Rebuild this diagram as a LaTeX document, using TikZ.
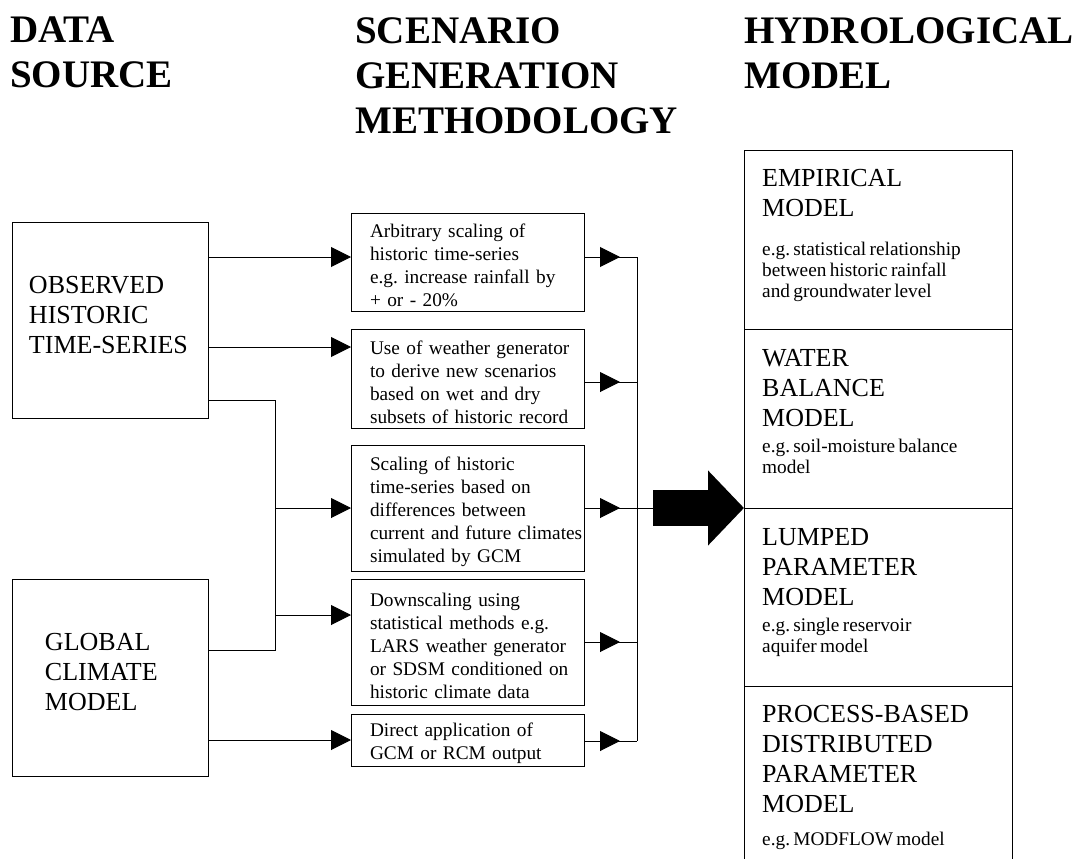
\documentclass[tikz,border=0pt]{standalone}
\usepackage{fontspec}
\setmainfont{Liberation Serif}
\usetikzlibrary{shapes,arrows.meta,positioning}
\frenchspacing

\newcommand{\hydname}{\fontsize{26}{30}\selectfont}
\newcommand{\hydnote}{\fontsize{19.3}{21}\selectfont}

\begin{document}
\begin{tikzpicture}[x=1pt, y=-1pt, auto]
    % Define block styles
    \tikzstyle{heading} = [anchor=north west, inner sep=0pt, align=left, font=\fontsize{39}{45}\selectfont\bfseries]
    \tikzstyle{source} = [rectangle, draw, line width=1pt, outer sep=0pt, anchor=north west, minimum width=196pt, minimum height=196pt, text width=196pt, inner sep=0pt, align=left, font=\hydname, execute at begin node={\leftskip=17pt\relax}, execute at end node={\rule[-11pt]{0pt}{11pt}}]
    \tikzstyle{method} = [rectangle, draw, line width=1pt, outer sep=0pt, anchor=north west, text width=233pt, inner sep=0pt, align=left, font=\fontsize{19.3}{23}\selectfont, execute at begin node={\leftskip=19pt\rightskip=-8pt plus 1fil\hyphenpenalty=10000\relax\rule{0pt}{21pt}}]
    \tikzstyle{cell} = [rectangle, draw, line width=1pt, outer sep=0pt, anchor=north west, minimum width=268pt, minimum height=179pt, inner sep=0pt]
    \tikzstyle{celltext} = [anchor=north west, inner sep=0pt, text width=245pt, align=left]
    \tikzstyle{line} = [draw, line width=1pt]
    \tikzstyle{arrowline} = [draw, line width=1pt, -{Triangle[length=20pt, width=20pt]}]

    \useasboundingbox (0,0) rectangle (1080,859);

    % Headings
    \node [heading] (datahead) at (10,17) {DATA\\SOURCE};
    \node [heading] (scenhead) at (355,17) {SCENARIO\\GENERATION\\METHODOLOGY};
    \node [heading] (hydhead) at (744,17) {HYDROLOGICAL\\MODEL};

    % Data sources
    \node [source] (obs) at (12,222) {OBSERVED\\HISTORIC\\TIME-SERIES};
    \node [source, minimum height=197pt, execute at begin node={\leftskip=33pt\relax}] (glob) at (12,579) {GLOBAL\\CLIMATE\\MODEL};

    % Scenario methods
    \node [method, minimum height=98pt] (b1) at (351,213) {Arbitrary scaling of\\historic time-series\\e.g. increase rainfall by\\+ or - 20\%};
    \node [method, minimum height=99pt, below=18pt of b1] (b2) {Use of weather generator\\to derive new scenarios\\based on wet and dry\\subsets of historic record};
    \node [method, minimum height=126pt, below=17pt of b2] (b3) {Scaling of historic\\time-series based on\\differences between\\current and future climates\\simulated by GCM};
    \node [method, minimum height=126pt, below=8pt of b3] (b4) {Downscaling using\\statistical methods e.g.\\LARS weather generator\\or SDSM conditioned on\\historic climate data};
    \node [method, minimum height=52pt, below=9pt of b4] (b5) {Direct application of\\GCM or RCM output};

    % Hydrological models
    \node [cell] (emp) at (744,150) {};
    \node [cell, below=0pt of emp] (wat) {};
    \node [cell, minimum height=178pt, below=0pt of wat] (lum) {};
    \node [cell, minimum height=200pt, below=0pt of lum] (pro) {};

    \node [celltext, below right=19pt and 18pt of emp.north west] (emptext) {{\hydname EMPIRICAL\\MODEL\par}\vspace{18pt}{\hydnote e.g. statistical relationship\\between historic rainfall\\and groundwater level\par}};
    \node [celltext, below right=20pt and 18pt of wat.north west] (wattext) {{\hydname WATER\\BALANCE\\MODEL\par}\vspace{5pt}{\hydnote e.g. soil-moisture balance\\model\par}};
    \node [celltext, below right=20pt and 18pt of lum.north west] (lumtext) {{\hydname LUMPED\\PARAMETER\\MODEL\par}\vspace{5pt}{\hydnote e.g. single reservoir\\aquifer model\par}};
    \node [celltext, below right=19pt and 18pt of pro.north west] (protext) {{\hydname PROCESS-BASED\\DISTRIBUTED\\PARAMETER\\MODEL\par}\vspace{12pt}{\hydnote e.g. MODFLOW model\par}};

    % Arrows
    \path [arrowline] ([yshift=63pt]obs.east) -- ([yshift=63pt]obs.east -| b1.west);
    \path [arrowline] ([yshift=-27pt]obs.east) -- ([yshift=-27pt]obs.east -| b2.west);
    \path [line] ([yshift=-80pt]obs.east) -- ++(67,0) coordinate (split) |- ([yshift=27.5pt]glob.east);
    \path [arrowline] (split |- b3.west) -- (b3.west);
    \path [arrowline] ([yshift=27pt]b4.west -| split) -- ([yshift=27pt]b4.west);
    \path [arrowline] (glob.east |- b5.west) -- (b5.west);

    \foreach \b/\s in {b1/5, b2/-3.5, b3/0, b4/0, b5/-1} {
        \path [arrowline] ([yshift=\s pt]\b.east) -- ++(36,0);
        \path [line] ([yshift=\s pt]\b.east) -- ++(53,0) coordinate (\b-bus);
    }
    \path [line] (b1-bus) -- (b5-bus);
    \path [line] (b3-bus) -- ++(16,0) coordinate (fat);
    \path [draw, line width=36pt, -{Triangle[length=36pt, width=73pt]}] (fat) -- (fat -| wat.south west);

  \end{tikzpicture}
\end{document}
